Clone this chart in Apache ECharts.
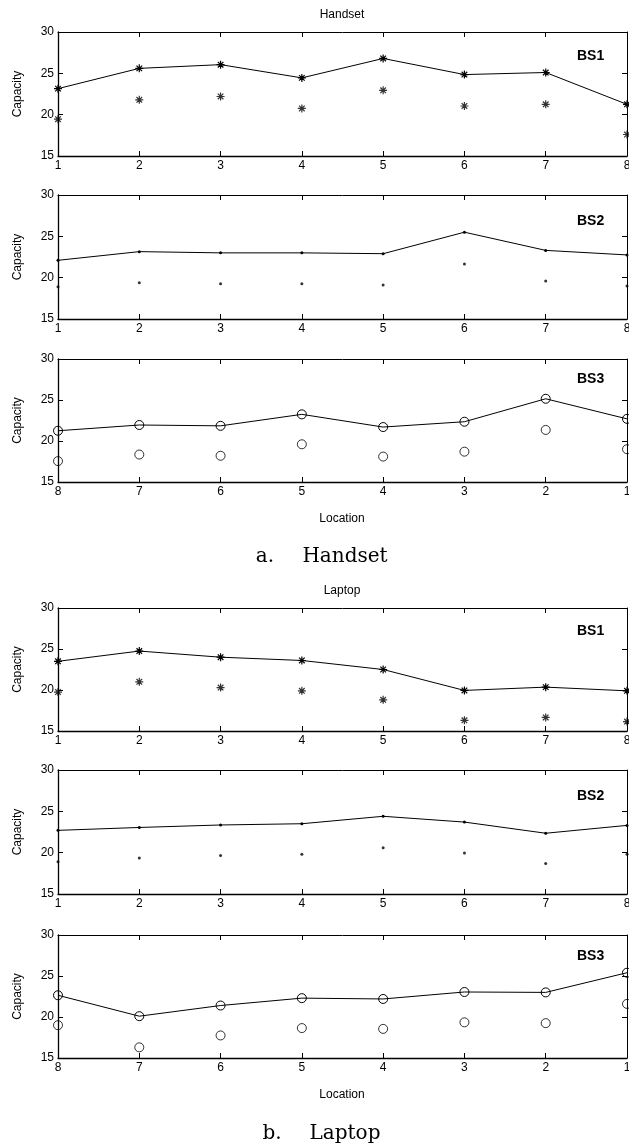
<!DOCTYPE html>
<html>
<head>
<meta charset="utf-8">
<script src="https://cdn.jsdelivr.net/npm/echarts@6/dist/echarts.min.js"></script>
<style>
  html, body { margin: 0; padding: 0; background: #fff; overflow: hidden; }
  #chart { width: 629px; height: 1147px; }
</style>
</head>
<body>
<div id="chart"></div>
<script>
'use strict';

const locFwd = [1, 2, 3, 4, 5, 6, 7, 8];
const locRev = [8, 7, 6, 5, 4, 3, 2, 1];
const yTicks = [15, 20, 25, 30];

// Handset
const hsBs1Line = [23.15, 25.6, 26.05, 24.45, 26.8, 24.85, 25.1, 21.25];
const hsBs1Pts = [19.45, 21.8, 22.2, 20.75, 22.95, 21.05, 21.25, 17.6];
const hsBs2Line = [22.1, 23.15, 23.0, 23.0, 22.9, 25.5, 23.3, 22.75];
const hsBs2Pts = [18.9, 19.4, 19.25, 19.25, 19.1, 21.65, 19.6, 19.0];
const hsBs3Line = [21.25, 21.95, 21.85, 23.25, 21.7, 22.35, 25.15, 22.7];
const hsBs3Pts = [17.55, 18.35, 18.2, 19.6, 18.1, 18.7, 21.35, 19.0];

// Laptop
const lpBs1Line = [23.5, 24.75, 24.0, 23.6, 22.5, 19.95, 20.35, 19.9];
const lpBs1Pts = [19.75, 21.0, 20.3, 19.9, 18.8, 16.3, 16.65, 16.15];
const lpBs2Line = [22.7, 23.05, 23.35, 23.5, 24.4, 23.7, 22.35, 23.3];
const lpBs2Pts = [18.9, 19.35, 19.65, 19.8, 20.6, 19.95, 18.7, 19.8];
const lpBs3Line = [22.65, 20.1, 21.4, 22.3, 22.2, 23.05, 23.0, 25.4];
const lpBs3Pts = [19.0, 16.3, 17.75, 18.65, 18.55, 19.35, 19.25, 21.6];

const FONT = '"Liberation Sans", Arial, Helvetica, sans-serif';
const STAR = 'path://M0,-5L0,5M-5,0L5,0M-3.5,-3.5L3.5,3.5M-3.5,3.5L3.5,-3.5';

var panels = [
    {top: 32, height: 124, label: 'BS1', ly: 57, loc: locFwd, line: hsBs1Line, pts: hsBs1Pts, mark: 'star'},
    {top: 195, height: 124, label: 'BS2', ly: 222, loc: locFwd, line: hsBs2Line, pts: hsBs2Pts, mark: 'dot'},
    {top: 359, height: 123, label: 'BS3', ly: 380, loc: locRev, line: hsBs3Line, pts: hsBs3Pts, mark: 'circle'},
    {top: 608, height: 123, label: 'BS1', ly: 632, loc: locFwd, line: lpBs1Line, pts: lpBs1Pts, mark: 'star'},
    {top: 770, height: 124, label: 'BS2', ly: 797, loc: locFwd, line: lpBs2Line, pts: lpBs2Pts, mark: 'dot'},
    {top: 935, height: 123, label: 'BS3', ly: 957, loc: locRev, line: lpBs3Line, pts: lpBs3Pts, mark: 'circle'}
];

function markStyle(mark) {
    if (mark == 'star') {
        return {symbol: STAR, symbolSize: 8, itemStyle: {color: 'none', borderColor: '#000', borderWidth: 1.2}};
    }
    if (mark == 'dot') {
        return {symbol: 'circle', symbolSize: 3, itemStyle: {color: '#000', borderWidth: 0}};
    }
    return {symbol: 'circle', symbolSize: 9, itemStyle: {color: 'none', borderColor: '#000', borderWidth: 1}};
}

var grids = [], xAxes = [], yAxes = [], series = [], texts = [];

panels.forEach((p, i) => {
    var inverse = p.loc[0] > p.loc[p.loc.length - 1];
    grids.push({left: 58, width: 569, top: p.top, height: p.height, containLabel: false, outerBoundsMode: 'none'});

    // bottom axis with labels
    xAxes.push({
        type: 'value', gridIndex: i, position: 'bottom', min: 1, max: 8, interval: 1, inverse: inverse,
        axisLine: {lineStyle: {color: '#000', width: 1.3}},
        axisTick: {inside: true, length: 5, lineStyle: {color: '#000'}},
        axisLabel: {color: '#000', fontSize: 12, fontFamily: FONT, margin: 4},
        splitLine: {show: false}
    });
    // top axis, ticks only
    xAxes.push({
        type: 'value', gridIndex: i, position: 'top', min: 1, max: 8, interval: 1, inverse: inverse,
        axisLine: {lineStyle: {color: '#000', width: 1}},
        axisTick: {inside: true, length: 5, lineStyle: {color: '#000'}},
        axisLabel: {show: false},
        splitLine: {show: false}
    });
    yAxes.push({
        type: 'value', gridIndex: i, position: 'left', min: yTicks[0], max: yTicks[yTicks.length - 1], interval: 5,
        name: 'Capacity', nameLocation: 'middle', nameRotate: 90, nameGap: 34,
        nameTextStyle: {color: '#000', fontSize: 12, fontFamily: FONT},
        axisLine: {lineStyle: {color: '#000', width: 1.3}},
        axisTick: {inside: true, length: 5, lineStyle: {color: '#000'}},
        axisLabel: {color: '#000', fontSize: 12, fontFamily: FONT, margin: 4},
        splitLine: {show: false}
    });
    yAxes.push({
        type: 'value', gridIndex: i, position: 'right', min: 15, max: 30, interval: 5,
        axisLine: {show: true, lineStyle: {color: '#000', width: 1}},
        axisTick: {inside: true, length: 5, lineStyle: {color: '#000'}},
        axisLabel: {show: false},
        splitLine: {show: false}
    });

    var ms = markStyle(p.mark);
    series.push(Object.assign({
        type: 'line', xAxisIndex: i * 2, yAxisIndex: i * 2,
        data: p.loc.map((x, k) => [x, p.line[k]]),
        showAllSymbol: true, animation: false, clip: false,
        lineStyle: {color: '#000', width: 1}
    }, ms));
    series.push(Object.assign({
        type: 'scatter', xAxisIndex: i * 2, yAxisIndex: i * 2,
        data: p.loc.map((x, k) => [x, p.pts[k]]),
        animation: false, clip: false
    }, ms));

    texts.push({
        type: 'text', left: 577, top: p.ly - 8,
        style: {text: p.label, fill: '#000', font: 'bold 14px ' + FONT}
    });
});

function centerText(str, x, y, font) {
    return {type: 'text', x: x, y: y, style: {text: str, fill: '#000', font: font, align: 'center', verticalAlign: 'middle'}};
}

texts.push(centerText('Handset', 342, 15, '12px ' + FONT));
texts.push(centerText('Location', 342, 519, '12px ' + FONT));
texts.push(centerText('a.', 265, 557, '20px "DejaVu Serif", serif'));
texts.push(centerText('Handset', 345, 557, '20px "DejaVu Serif", serif'));
texts.push(centerText('Laptop', 342, 591, '12px ' + FONT));
texts.push(centerText('Location', 342, 1095, '12px ' + FONT));
texts.push(centerText('b.', 272, 1134, '20px "DejaVu Serif", serif'));
texts.push(centerText('Laptop', 345, 1134, '20px "DejaVu Serif", serif'));

var chart = echarts.init(document.getElementById('chart'), null, {renderer: 'canvas'});
chart.setOption({
    animation: false,
    backgroundColor: '#fff',
    grid: grids,
    xAxis: xAxes,
    yAxis: yAxes,
    series: series,
    graphic: texts
});
</script>
</body>
</html>
